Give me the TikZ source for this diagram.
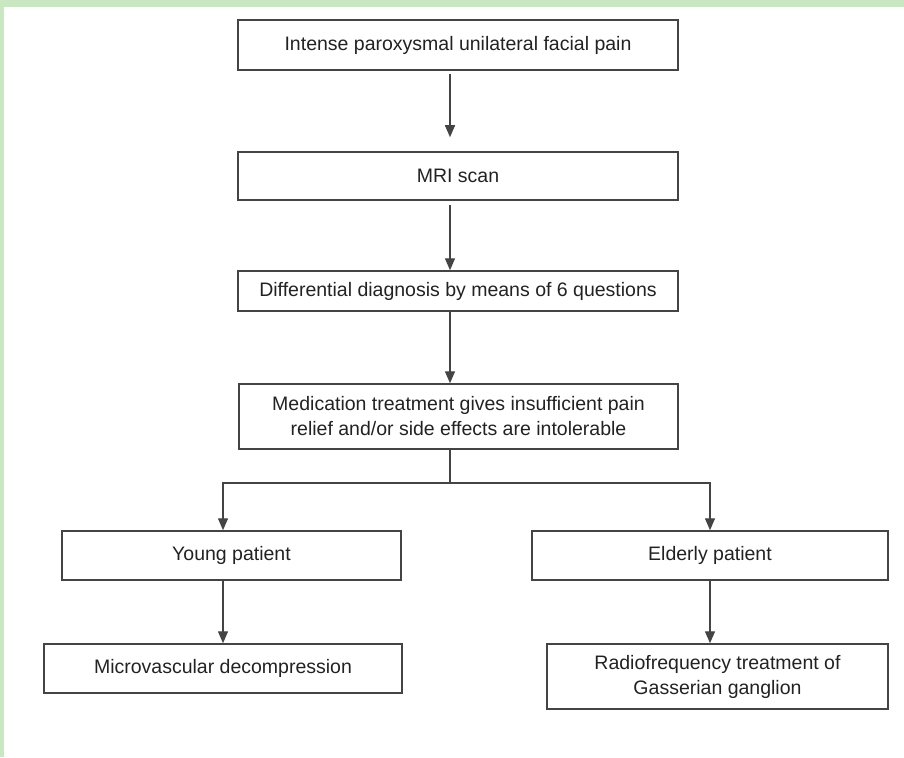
\documentclass[tikz,border=0pt]{standalone}
\usepackage{fontspec}
\setmainfont{Liberation Sans}
\usetikzlibrary{arrows.meta,calc}
\definecolor{bggreen}{HTML}{C9E8C2}
\definecolor{linec}{HTML}{444444}
\definecolor{txtc}{HTML}{222222}
\tikzset{
  box/.style={draw=linec, line width=1.5pt, rectangle, inner sep=0pt, align=center,
    text=txtc, font=\fontsize{19.5}{25}\selectfont},
  arr/.style={draw=linec, line width=1.4pt, -{Triangle[width=10pt,length=12pt]}},
  ln/.style={draw=linec, line width=1.4pt}
}
\begin{document}
\begin{tikzpicture}[x=1pt,y=-1pt]
\useasboundingbox (0,0) rectangle (904,757);
\fill[bggreen] (0,0) rectangle (904,7);
\fill[bggreen] (0,0) rectangle (4,757);

\node[box, minimum width=440pt, minimum height=50pt] (b1) at (458,45) {Intense paroxysmal unilateral facial pain};
\node[box, minimum width=440pt, minimum height=48pt] (b2) at (458,176) {MRI scan};
\node[box, minimum width=440pt, minimum height=40pt] (b3) at (458,291) {Differential diagnosis by means of 6 questions};
\node[box, minimum width=439pt, minimum height=65pt] (b4) at (458.5,416.5) {Medication treatment gives insufficient pain\\relief and/or side effects are intolerable};
\node[box, minimum width=339pt, minimum height=49pt] (young) at (231.5,555.5) {Young patient};
\node[box, minimum width=356pt, minimum height=49pt] (old) at (710,555.5) {Elderly patient};
\node[box, minimum width=358pt, minimum height=49pt] (micro) at (223,668.5) {Microvascular decompression};
\node[box, minimum width=341pt, minimum height=65pt] (radio) at (717.5,676.5) {Radiofrequency treatment of\\Gasserian ganglion};

\coordinate (ax) at (450,0);
\coordinate (lx) at (223,0);
\coordinate (rx) at (710,0);
\coordinate (split) at (450,483);

\draw[arr] ([yshift=-3pt]b1.south -| ax) -- ([yshift=14pt]b2.north -| ax);
\draw[arr] ([yshift=-4pt]b2.south -| ax) -- (b3.north -| ax);
\draw[arr] (b3.south -| ax) -- (b4.north -| ax);
\draw[ln] (b4.south -| ax) -- (split);
\draw[arr] (split) -| (young.north -| lx);
\draw[arr] (split) -| (old.north -| rx);
\draw[arr] (young.south -| lx) -- (micro.north -| lx);
\draw[arr] (old.south -| rx) -- (radio.north -| rx);
\end{tikzpicture}
\end{document}
